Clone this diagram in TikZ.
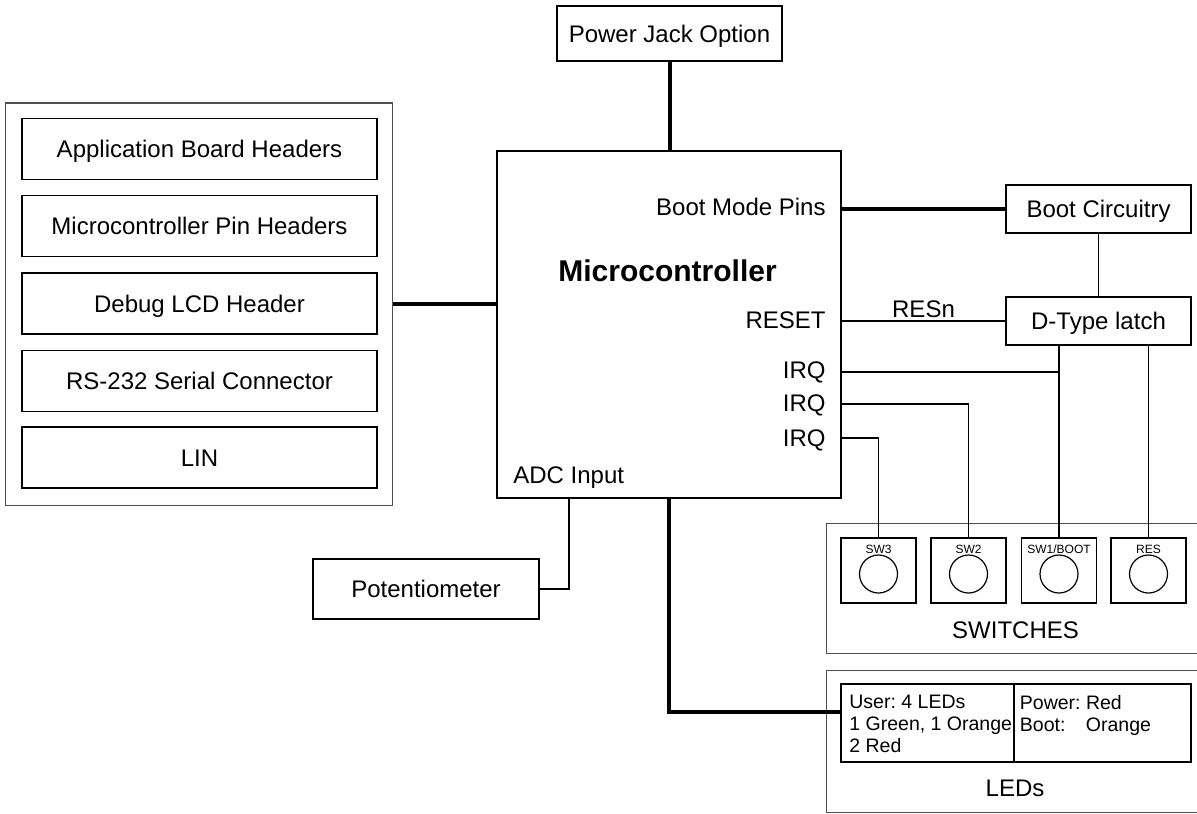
\documentclass[tikz,border=0pt]{standalone}
\usepackage{fontspec}
\setmainfont{Liberation Sans}
\usetikzlibrary{positioning, calc}
\definecolor{FrameGray}{HTML}{505050}

\begin{document}
\frenchspacing
\begin{tikzpicture}[x=0.5pt, y=-0.5pt,
    blk/.style={draw, line width=0.75pt, inner sep=0pt, font=\fontsize{12}{14}\selectfont, text height=8.6pt, text depth=0pt},
    grp/.style={draw=FrameGray, line width=0.5pt},
    bus/.style={line width=2pt},
    wire/.style={line width=0.8pt},
    pin/.style={font=\fontsize{12}{14}\selectfont, inner sep=0pt, anchor=base east},
    swbox/.style={draw, line width=0.75pt, minimum width=37.5pt, minimum height=32.5pt, inner sep=0pt},
    ledtxt/.style={anchor=north west, align=left, inner sep=0pt, font=\fontsize{9.75}{11}\selectfont}]
                \useasboundingbox (0,0) rectangle (1197,813);

                % Header group
                \node[grp, minimum width=193.5pt, minimum height=201pt] (hdrs) at (198.5,304) {};
                \foreach \nm/\y/\txt in {appb/149/Application Board Headers, pinh/226/Microcontroller Pin Headers, lcdh/303.5/Debug LCD Header, rs232/381/RS-232 Serial Connector, lin/457.5/LIN}
                    \node[blk, minimum width=177.5pt, minimum height=30.5pt] (\nm) at (199.5,\y) {\txt};

                % Microcontroller
                \node[blk, minimum width=172pt, minimum height=173.5pt] (mcu) at (669,324.5) {};
                \node[font=\bfseries\fontsize{15}{18}\selectfont, anchor=base, inner sep=0pt] (mcutitle) at (667.5,281) {Microcontroller};
                \node[pin] (pbootmode) at (826,215) {Boot Mode Pins};
                \node[pin] (preset) at (826,328) {RESET};
                \node[pin] (pirqa) at (826,378) {IRQ};
                \node[pin] (pirqb) at (826,411.5) {IRQ};
                \node[pin] (pirqc) at (826,446.5) {IRQ};
                \node[pin, anchor=base west] (padc) at (513,483) {ADC Input};
                \coordinate (irqa) at (841,372);
                \coordinate (irqb) at (841,404);
                \coordinate (irqc) at (841,438);
                \coordinate (adcpin) at (569,498);

                % Power jack
                \node[blk, minimum width=112.5pt, minimum height=27.5pt] (pwr) at (669.5,33.5) {Power Jack Option};
                \draw[bus] (pwr.south) -- (pwr.south |- mcu.north);
                \draw[bus] (hdrs.east) -- (hdrs.east -| mcu.west);

                % Boot circuitry and latch
                \node[blk, minimum width=92.5pt, minimum height=24pt] (boot) at (1098.5,209) {Boot Circuitry};
                \node[blk, minimum width=92.5pt, minimum height=24pt] (latch) at (1098.5,321) {D-Type latch};
                \draw[wire] (boot) -- (latch);
                \draw[bus] (boot.west -| mcu.east) -- (boot.west);
                \draw[wire] (latch.west -| mcu.east) -- node[above, inner sep=1pt, font=\fontsize{12}{14}\selectfont] (resn) {RESn} (latch.west);

                % Potentiometer
                \node[blk, minimum width=113pt, minimum height=30pt] (pot) at (426,589) {Potentiometer};
                \draw[wire] (pot.east) -| (adcpin);

                % Switches
                \draw[grp] (1197,523) -- (826,523) -- (826,653) -- (1197,653);
                \foreach \nm/\x/\txt in {sw3/878.5/SW3, sw2/968.5/SW2, sw1/1059/{SW1/BOOT}, res/1148.5/RES} {
                    \node[swbox] (\nm) at (\x,570.5) {};
                    \node[font=\fontsize{6}{7}\selectfont, inner sep=0pt, anchor=base] (\nm lbl) at (\x,553) {\txt};
                    \draw[line width=0.6pt] (\x,574) circle (9.5pt);
                }
                \node[font=\fontsize{12}{14}\selectfont, inner sep=0pt, anchor=base] (swlbl) at (1015.5,638) {SWITCHES};
                \draw[wire] (latch.south -| sw1.north) -- (sw1.north);
                \draw[wire] (latch.south -| res.north) -- (res.north);
                \draw[wire] (irqa) -- (irqa -| sw1.north);
                \draw[wire] (irqb) -| (sw2.north);
                \draw[wire] (irqc) -| (sw3.north);

                % LEDs
                \draw[grp] (1197,670) -- (826,670) -- (826,812) -- (1197,812);
                \node[draw, line width=0.75pt, minimum width=86.5pt, minimum height=39pt, inner sep=0pt] (ledusr) at (927.5,723) {};
                \node[draw, line width=0.75pt, minimum width=88.5pt, minimum height=39pt, inner sep=0pt] (ledpwr) at (1102.5,723) {};
                \node[ledtxt] (usrtxt) at (849,694.5) {User: 4 LEDs\\1 Green, 1 Orange\\2 Red};
                \node[ledtxt] (pwrtxt) at (1019.5,694.5) {Power: Red\\\makebox[33pt][l]{Boot:}Orange};
                \node[font=\fontsize{12}{14}\selectfont, inner sep=0pt, anchor=base] (ledlbl) at (1015,796.5) {LEDs};
                \draw[bus] (mcu.south) |- ([yshift=5.5pt]ledusr.west);
            \end{tikzpicture}
\end{document}
